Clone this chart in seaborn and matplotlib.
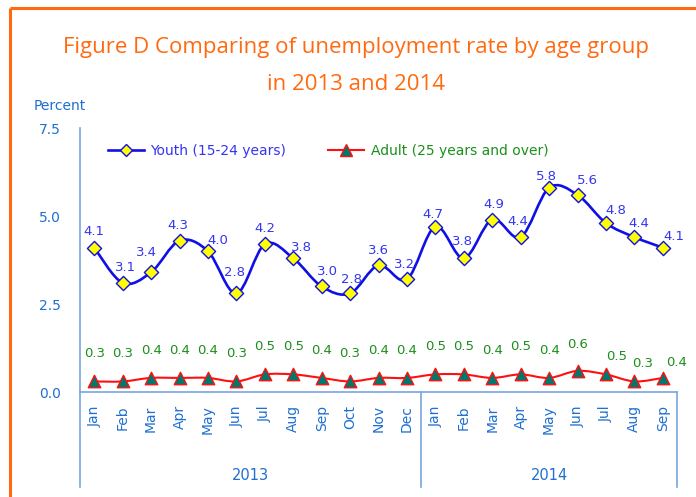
import numpy as np
import pandas as pd
import seaborn as sns
import matplotlib
matplotlib.use("Agg")
import matplotlib.pyplot as plt
from matplotlib.path import Path
from matplotlib.patches import PathPatch
from matplotlib.lines import Line2D

# ---------------- data ----------------
months = ["Jan", "Feb", "Mar", "Apr", "May", "Jun", "Jul", "Aug", "Sep", "Oct", "Nov", "Dec",
          "Jan", "Feb", "Mar", "Apr", "May", "Jun", "Jul", "Aug", "Sep"]
years = ["2013"] * 12 + ["2014"] * 9
youth = [4.1, 3.1, 3.4, 4.3, 4.0, 2.8, 4.2, 3.8, 3.0, 2.8, 3.6, 3.2,
         4.7, 3.8, 4.9, 4.4, 5.8, 5.6, 4.8, 4.4, 4.1]
adult = [0.3, 0.3, 0.4, 0.4, 0.4, 0.3, 0.5, 0.5, 0.4, 0.3, 0.4, 0.4,
         0.5, 0.5, 0.4, 0.5, 0.4, 0.6, 0.5, 0.3, 0.4]
yticks = [0.0, 2.5, 5.0, 7.5]
series_names = ["Youth (15-24 years)", "Adult (25 years and over)"]

# label offsets (points) -- styling only
youth_lab_dx = [0, 2, -3, -1, 7, -1, 0, 6, 4, 1, 0, -2, -2, -1, 1, -2, -2, 7, 7, 3, 8]
youth_lab_dy = [12, 11, 14, 11, 8, 15, 11, 8, 11, 10, 11, 11, 9, 12, 11, 11, 8, 10, 9, 10, 8]
adult_lab_dx = [0] * 17 + [0, 8, 6, 10]
adult_lab_dy = [20] * 17 + [19, 13, 13, 11]

x = np.arange(len(months))
df = pd.DataFrame({"idx": x, "month": months, "year": years, "youth": youth, "adult": adult})

BLUE_TICK = "#1f6fd0"
AXIS_COL = "#78a6e0"
YOUTH_COL = "#1010e6"
YOUTH_LAB = "#3535f0"
ADULT_COL = "#ff1010"
ADULT_LAB = "#1b8f1b"
TEAL = "#00786e"
ORANGE = "#ff6a10"

plt.rcParams["font.family"] = ["DejaVu Sans"]

W, H = 696, 497
fig = plt.figure(figsize=(W / 100, H / 100), dpi=100)
fig.patch.set_facecolor("white")
fig.patch.set_edgecolor("none")
fig.patch.set_linewidth(0)

# orange frame (only top and left visible)
fig.add_artist(Line2D([10 / W, 1.0], [1 - 8 / H, 1 - 8 / H], transform=fig.transFigure,
                      color=ORANGE, linewidth=2.2, solid_capstyle="butt"))
fig.add_artist(Line2D([10 / W, 10 / W], [0.0, 1 - 8 / H], transform=fig.transFigure,
                      color=ORANGE, linewidth=2.2, solid_capstyle="butt"))

ax_l, ax_r, ax_t, ax_b = 80, 677, 128, 392
ax = fig.add_axes([ax_l / W, 1 - ax_b / H, (ax_r - ax_l) / W, (ax_b - ax_t) / H])
ax.set_facecolor("none")
ax.set_xlim(-0.5, len(months) - 0.5)
ax.set_ylim(0, 7.5)


def smooth_path(xs, ys, t=0.5):
    xs = np.asarray(xs, float)
    ys = np.asarray(ys, float)
    n = len(xs)
    verts = [(xs[0], ys[0])]
    codes = [Path.MOVETO]
    for i in range(n - 1):
        p0 = np.array([xs[max(i - 1, 0)], ys[max(i - 1, 0)]])
        p1 = np.array([xs[i], ys[i]])
        p2 = np.array([xs[i + 1], ys[i + 1]])
        p3 = np.array([xs[min(i + 2, n - 1)], ys[min(i + 2, n - 1)]])
        c1 = p1 + (p2 - p0) * t / 3
        c2 = p2 - (p3 - p1) * t / 3
        verts += [tuple(c1), tuple(c2), tuple(p2)]
        codes += [Path.CURVE4] * 3
    return Path(verts, codes)


ax.add_patch(PathPatch(smooth_path(x, youth), fill=False, edgecolor=YOUTH_COL, linewidth=1.9,
                       zorder=3, capstyle="round", joinstyle="round"))
ax.add_patch(PathPatch(smooth_path(x, adult), fill=False, edgecolor=ADULT_COL, linewidth=1.5,
                       zorder=3, capstyle="round", joinstyle="round"))

sns.scatterplot(data=df, x="idx", y="youth", ax=ax, marker="D", s=52, color="#ffff00",
                edgecolor=YOUTH_COL, linewidth=1.0, zorder=4, legend=False)
sns.scatterplot(data=df, x="idx", y="adult", ax=ax, marker="^", s=80, color=TEAL,
                edgecolor=ADULT_COL, linewidth=1.0, zorder=4, legend=False)

for i in range(len(x)):
    ax.annotate(f"{youth[i]:.1f}", (x[i], youth[i]), xytext=(youth_lab_dx[i], youth_lab_dy[i]),
                textcoords="offset points", ha="center", va="center", color=YOUTH_LAB,
                fontsize=9.5, zorder=5)
    ax.annotate(f"{adult[i]:.1f}", (x[i], adult[i]), xytext=(adult_lab_dx[i], adult_lab_dy[i]),
                textcoords="offset points", ha="center", va="center", color=ADULT_LAB,
                fontsize=9.5, zorder=5)

# axes styling
for s in ["top", "right"]:
    ax.spines[s].set_visible(False)
ax.spines["left"].set_color(AXIS_COL)
ax.spines["bottom"].set_color(AXIS_COL)
ax.spines["left"].set_linewidth(1.2)
ax.spines["bottom"].set_linewidth(1.2)
ax.set_yticks(yticks)
ax.set_yticklabels([f"{v:.1f}" for v in yticks])
ax.tick_params(axis="y", length=0, pad=14, labelcolor=BLUE_TICK, labelsize=10)
ax.set_xticks([])
ax.set_xlabel("")
ax.set_ylabel("")
ax.grid(False)

# category axis (months + years)
blend = ax.get_xaxis_transform()
for i, m in enumerate(months):
    ax.text(x[i], -0.05, m, transform=blend, rotation=90, ha="center", va="top",
            color=BLUE_TICK, fontsize=10, clip_on=False)

groups = []
for i, yv in enumerate(years):
    if not groups or groups[-1][0] != yv:
        groups.append([yv, i, i])
    else:
        groups[-1][2] = i
bottom_frac = -(487 - ax_b) / (ax_b - ax_t)
bounds = [-0.5] + [g[2] + 0.5 for g in groups]
for b in bounds:
    ax.add_line(Line2D([b, b], [0, bottom_frac], transform=blend, color=AXIS_COL,
                       linewidth=1.2, clip_on=False))
for name, a, b in groups:
    ax.text((a + b) / 2, -(475 - ax_b) / (ax_b - ax_t), name, transform=blend, ha="center",
            va="center", color=BLUE_TICK, fontsize=10.5, clip_on=False)

# legend
handles = [
    Line2D([], [], color=YOUTH_COL, linewidth=1.9, marker="D", markersize=6.5,
           markerfacecolor="#ffff00", markeredgecolor=YOUTH_COL),
    Line2D([], [], color=ADULT_COL, linewidth=1.5, marker="^", markersize=8.5,
           markerfacecolor=TEAL, markeredgecolor=ADULT_COL),
]
leg = fig.legend(handles, series_names, loc="center left", ncol=2, frameon=False,
                 bbox_to_anchor=(95 / W, 1 - 151 / H), fontsize=10, handlelength=2.6,
                 handletextpad=0.5, columnspacing=3.0)
leg.get_texts()[0].set_color(YOUTH_LAB)
leg.get_texts()[1].set_color(ADULT_LAB)

# titles
fig.text(356 / W, 1 - 48 / H, "Figure D Comparing of unemployment rate by age group",
         ha="center", va="center", color=ORANGE, fontsize=16, family=["Open Sans", "DejaVu Sans"])
fig.text(356 / W, 1 - 84 / H, "in 2013 and 2014", ha="center", va="center", color=ORANGE,
         fontsize=16, family=["Open Sans", "DejaVu Sans"])
fig.text(60 / W, 1 - 106 / H, "Percent", ha="center", va="center", color=BLUE_TICK, fontsize=10)

fig.savefig("out.png", dpi=100, facecolor="white")
